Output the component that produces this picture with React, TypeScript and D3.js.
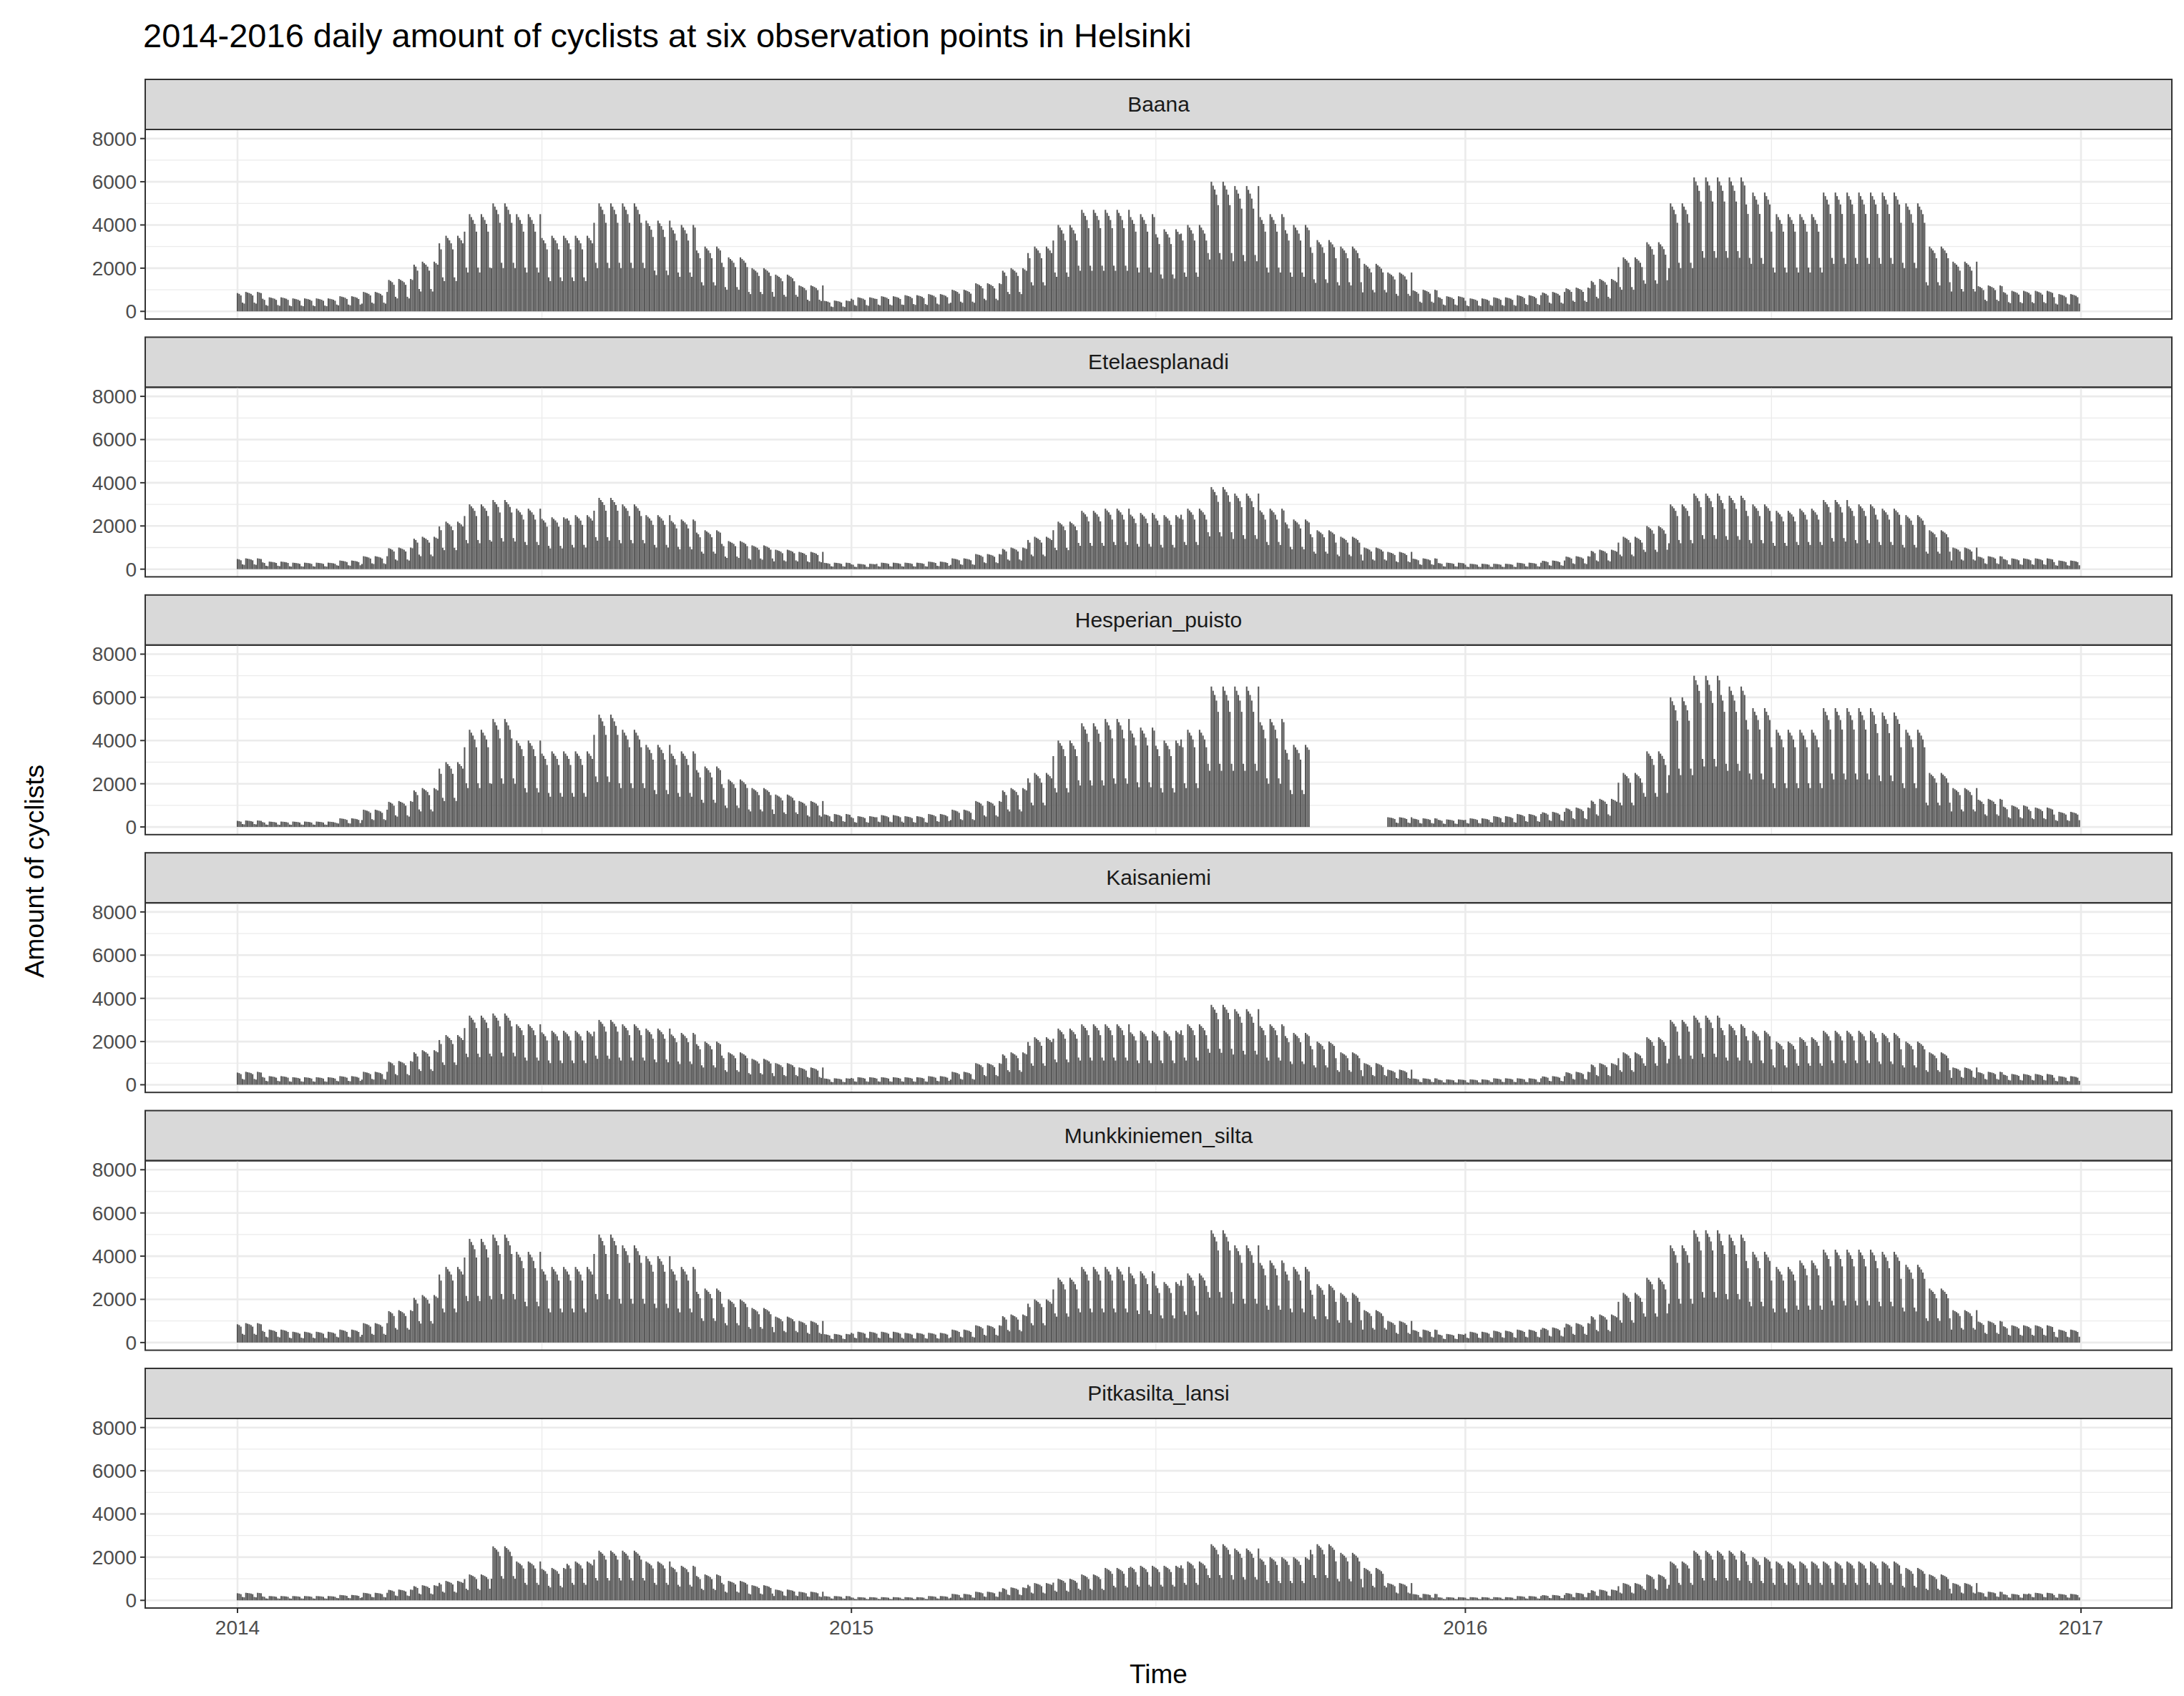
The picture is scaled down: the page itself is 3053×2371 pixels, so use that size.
import React from "react";
import * as d3 from "d3";

// semi-monthly typical weekday level per station (24 per year, 2014-2016)
const stations = ["Baana", "Etelaesplanadi", "Hesperian_puisto", "Kaisaniemi", "Munkkiniemen_silta", "Pitkasilta_lansi"];

const baana = [
  900, 650, 600, 600, 700, 900, 1500, 2300, 3500, 4500, 5000, 4500, 3500, 3500, 5000, 5000, 4200, 4000, 3000, 2500, 2000, 1700, 1200, 500,
  650, 700, 750, 800, 1000, 1300, 2000, 3000, 4000, 4700, 4700, 4500, 3800, 4000, 6000, 5800, 4500, 4000, 3300, 3000, 2200, 1800, 1000, 700,
  600, 650, 750, 900, 1100, 1500, 2500, 3200, 5000, 6200, 6200, 5500, 4500, 4500, 5500, 5500, 5500, 5000, 3000, 2300, 1200, 950, 950, 800,
];
const etela = [
  500, 350, 300, 300, 400, 600, 1000, 1500, 2200, 3000, 3200, 2800, 2400, 2500, 3300, 3000, 2500, 2300, 1800, 1300, 1100, 900, 800, 300,
  250, 300, 300, 350, 500, 700, 1000, 1500, 2200, 2700, 2800, 2600, 2500, 2800, 3800, 3500, 2800, 2300, 1800, 1500, 1000, 800, 500, 300,
  250, 250, 300, 400, 600, 900, 1500, 2000, 3000, 3500, 3400, 3000, 2700, 2800, 3200, 3000, 2800, 2500, 1800, 1000, 600, 500, 500, 400,
];
const hesperian = [
  300, 250, 250, 250, 400, 800, 1200, 1800, 3000, 4500, 5000, 4000, 3500, 3500, 5200, 4500, 3800, 3500, 2800, 2200, 1800, 1500, 1200, 600,
  500, 550, 500, 600, 800, 1200, 1800, 2500, 4000, 4800, 5000, 4600, 4000, 4500, 6500, 6500, 5000, 3800, null, null, null, 450, 400, 350,
  400, 500, 600, 700, 900, 1300, 2500, 3500, 6000, 7000, 6500, 5500, 4500, 4500, 5500, 5500, 5300, 4500, 2500, 1800, 1300, 1000, 900, 700,
];
const kaisaniemi = [
  600, 400, 350, 350, 400, 600, 1100, 1600, 2300, 3200, 3300, 2800, 2500, 2500, 3000, 2800, 2600, 2400, 2000, 1500, 1200, 1000, 800, 300,
  350, 350, 350, 400, 600, 1000, 1500, 2200, 2600, 2800, 2800, 2500, 2500, 2800, 3700, 3500, 2800, 2400, 2000, 1500, 1000, 700, 300, 250,
  250, 300, 300, 400, 600, 1000, 1500, 2200, 3000, 3200, 2800, 2500, 2000, 2200, 2500, 2500, 2400, 2000, 1500, 800, 600, 500, 500, 400,
];
const munkki = [
  900, 600, 500, 500, 600, 900, 1500, 2200, 3500, 4800, 5000, 4200, 3500, 3500, 5000, 4500, 4000, 3500, 2500, 2000, 1600, 1200, 1000, 400,
  500, 500, 450, 450, 600, 800, 1300, 2000, 3000, 3500, 3500, 3300, 2800, 3200, 5200, 4500, 3800, 3500, 2700, 2300, 1500, 1000, 600, 400,
  500, 550, 600, 700, 900, 1300, 2300, 3000, 4500, 5200, 5000, 4200, 3500, 3800, 4300, 4300, 4200, 3600, 2500, 1500, 1000, 800, 800, 600,
];
const pitka = [
  350, 200, 200, 200, 250, 350, 500, 700, 900, 1200, 2500, 1800, 1500, 1800, 2300, 2300, 1800, 1600, 1200, 900, 700, 500, 400, 200,
  150, 150, 150, 200, 300, 400, 600, 800, 1000, 1200, 1500, 1600, 1600, 1800, 2600, 2400, 2000, 2000, 2600, 2200, 1500, 800, 300, 150,
  150, 150, 200, 250, 350, 500, 800, 1200, 1800, 2300, 2300, 2000, 1800, 1800, 1800, 1800, 1800, 1500, 1200, 800, 400, 300, 350, 300,
];
const levels = [baana, etela, hesperian, kaisaniemi, munkki, pitka];
// Mon..Sun share of the weekday level
const weekdayFactor = [1, 0.97, 0.94, 0.9, 0.82, 0.45, 0.4];
const yTicks = [0, 2000, 4000, 6000, 8000];
const yearTicks = [2014, 2015, 2016, 2017];

const W = 3053, H = 2371;
const left = 195, right = 3028;
const stripTop0 = 103, stripH = 70, panelH = 265, pitch = 360.4;

const days = d3.timeDay.range(new Date(2014, 0, 1), new Date(2017, 0, 1));
const x = d3.scaleTime().domain([new Date(2014, 0, 1), new Date(2017, 0, 1)]).range([324, 2901]);
const y = d3.scaleLinear().domain([-355, 8420]).range([panelH, 0]);
const dayW = (x(new Date(2014, 0, 2)) - x(new Date(2014, 0, 1))) * 0.9;
const minorX = [0, 1, 2, 3, 4, 5].map(i => new Date(2014 + Math.floor(i / 2), (i % 2) * 6 + 6 === 12 ? 6 : 6, 1)).map((_, i) => new Date(2014 + i / 2 | 0, i % 2 === 0 ? 6 : 12, 1));

const value = (arr: (number | null)[], d: Date) => {
  const idx = (d.getFullYear() - 2014) * 24 + d.getMonth() * 2 + (d.getDate() >= 16 ? 1 : 0);
  const v = arr[idx];
  if (v == null) return null;
  return v * weekdayFactor[(d.getDay() + 6) % 7];
};

export default function App() {
  const font = "Liberation Sans, Arial, sans-serif";
  return (
    <svg width={W} height={H} style={{ display: "block", background: "white", fontFamily: font }}>
      <text x={192} y={58} fontSize={47} fill="black">2014-2016 daily amount of cyclists at six observation points in Helsinki</text>
      {stations.map((s, i) => {
        const st = stripTop0 + i * pitch;
        const pt = st + stripH;
        return (
          <g key={s}>
            <rect x={left} y={st} width={right - left} height={stripH} fill="#D9D9D9" stroke="#333" strokeWidth={2} />
            <text x={(left + right) / 2} y={st + stripH / 2 + 10} textAnchor="middle" fontSize={30} fill="#1A1A1A">{s}</text>
            <g transform={`translate(0,${pt})`}>
              {d3.range(-1000, 8001, 1000).filter(v => v > -355).map(v => (
                <line key={v} x1={left} x2={right} y1={y(v)} y2={y(v)} stroke="#EBEBEB" strokeWidth={v % 2000 === 0 ? 2.6 : 1.3} />
              ))}
              {minorX.map((d, j) => (
                <line key={"m" + j} x1={x(d)} x2={x(d)} y1={0} y2={panelH} stroke="#EBEBEB" strokeWidth={1.3} />
              ))}
              {yearTicks.map(t => (
                <line key={t} x1={x(new Date(t, 0, 1))} x2={x(new Date(t, 0, 1))} y1={0} y2={panelH} stroke="#EBEBEB" strokeWidth={2.6} />
              ))}
              {days.map((d, j) => {
                const v = value(levels[i], d);
                if (v == null) return null;
                return <rect key={j} x={x(d) - dayW / 2} y={y(v)} width={dayW} height={y(0) - y(v)} fill="#595959" />;
              })}
              <rect x={left} y={0} width={right - left} height={panelH} fill="none" stroke="#333" strokeWidth={2} />
              {yTicks.map(t => (
                <g key={t}>
                  <line x1={left - 7} x2={left} y1={y(t)} y2={y(t)} stroke="#333" strokeWidth={2} />
                  <text x={left - 12} y={y(t) + 10} textAnchor="end" fontSize={28} fill="#4D4D4D">{t}</text>
                </g>
              ))}
              {i === stations.length - 1 && yearTicks.map(t => (
                <g key={t}>
                  <line x1={x(new Date(t, 0, 1))} x2={x(new Date(t, 0, 1))} y1={panelH} y2={panelH + 7} stroke="#333" strokeWidth={2} />
                  <text x={x(new Date(t, 0, 1))} y={panelH + 37} textAnchor="middle" fontSize={28} fill="#4D4D4D">{t}</text>
                </g>
              ))}
            </g>
          </g>
        );
      })}
      <text x={(left + right) / 2} y={2345} textAnchor="middle" fontSize={37}>Time</text>
      <text transform={`translate(53,1210) rotate(-90)`} textAnchor="middle" fontSize={37}>Amount of cyclists</text>
    </svg>
  );
}
